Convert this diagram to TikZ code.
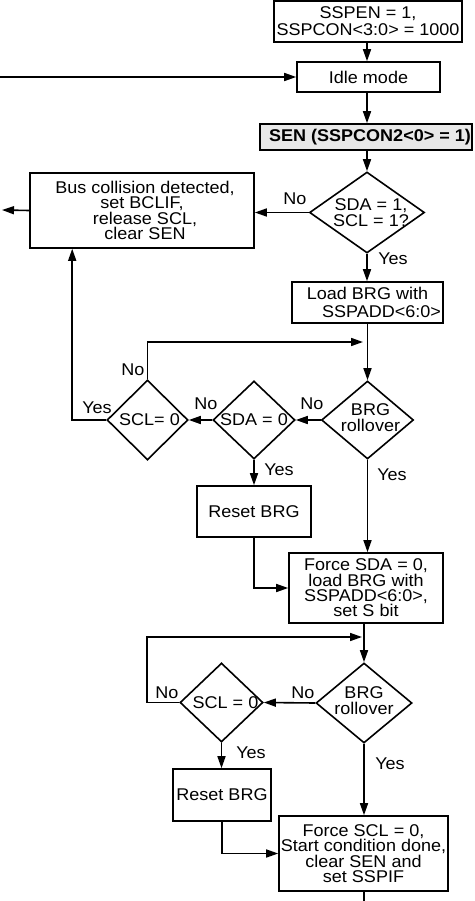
\documentclass[tikz,border=0pt]{standalone}
\usepackage{fontspec}
\setmainfont{Liberation Sans}[FakeStretch=1.06]
\usetikzlibrary{arrows.meta,shapes.geometric}
\newcommand\fA{\fontsize{17}{15.6}\selectfont\lineskiplimit=-30pt\relax}
\newcommand\fB{\fontsize{17}{17.3}\selectfont\lineskiplimit=-30pt\relax}
\newcommand\fC{\fontsize{17}{15.4}\selectfont\lineskiplimit=-30pt\relax}
\newcommand\fD{\fontsize{17}{16}\selectfont\lineskiplimit=-30pt\relax}
\begin{document}
\begin{tikzpicture}[x=1pt,y=-1pt,line width=1.6pt,
  box/.style={draw, rectangle, inner sep=0pt, align=center, font=\fA},
  dia/.style={draw, diamond, inner sep=0pt},
  txt/.style={inner sep=0pt, align=center, font=\fA},
  lbl/.style={inner sep=0pt, font=\fA},
  arr/.style={-{Triangle[length=12pt,width=8pt]}}]
\useasboundingbox (0,0) rectangle (474,901);
% boxes
\node[box, font=\fB, minimum width=188pt, minimum height=41pt] (top) at (368,21.3) {SSPEN = 1,\\SSPCON<3:0> = 1000};
\node[box, minimum width=143pt, minimum height=30pt] (idle) at (368.5,77) {Idle mode};
\node[box, fill=gray!18, font=\fA\bfseries, minimum width=212pt, minimum height=26pt] (sen) at (366,137) {\hspace*{8pt}SEN (SSPCON2<0> = 1)};
\node[dia, minimum width=115pt, minimum height=81pt] (d1) at (367,212.5) {};
\node[txt] (d1t) at ([xshift=4pt]d1.center) {SDA = 1,\\SCL = 1?};
\node[box, minimum width=224pt, minimum height=75pt] (bus) at (142,210.5) {\hspace*{6pt}Bus collision detected,\\set BCLIF,\\\hspace*{6pt}release SCL,\\\hspace*{6pt}clear SEN};
\node[box, font=\fB, minimum width=151pt, minimum height=41pt] (load) at (367.5,302.5) {Load BRG with\\\hspace*{28pt}SSPADD<6:0>};
\node[dia, minimum width=92pt, minimum height=78pt] (r1) at (367.5,420) {};
\node[txt, font=\fD] (r1t) at ([xshift=3pt,yshift=2pt]r1.center) {BRG\\rollover};
\node[dia, minimum width=82pt, minimum height=78pt] (sda) at (254,420) {};
\node[txt] (sdat) at (sda.center) {SDA = 0};
\node[dia, minimum width=81pt, minimum height=80pt] (scl1) at (147.5,420) {};
\node[txt] (scl1t) at ([xshift=2pt]scl1.center) {SCL= 0};
\node[box, minimum width=114pt, minimum height=51pt] (reset1) at (254,511.5) {Reset BRG};
\node[box, font=\fC, minimum width=154pt, minimum height=70pt] (fsda) at (366,588) {Force SDA = 0,\\load BRG with\\SSPADD<6:0>,\\set S bit};
\node[dia, minimum width=96pt, minimum height=80pt] (r2) at (364,703) {};
\node[txt, font=\fD] (r2t) at ([yshift=2pt]r2.center) {BRG\\rollover};
\node[dia, minimum width=83pt, minimum height=79pt] (scl2) at (221.5,702.5) {};
\node[txt] (scl2t) at ([xshift=4pt]scl2.center) {SCL = 0};
\node[box, minimum width=98pt, minimum height=52pt] (reset2) at (222,795) {Reset BRG};
\node[box, font=\fC, minimum width=169pt, minimum height=75pt] (fscl) at (363.5,853.5) {Force SCL = 0,\\Start condition done,\\clear SEN and\\set SSPIF};
% free ends
\coordinate (inL) at (0,77);
\coordinate (outL) at (2,210);
\coordinate (j1) at (363,342);
\coordinate (j2) at (362,637);
\coordinate (endB) at (364,901);
% connectors
\draw[arr] (top.south -| d1.north) -- (idle.north -| d1.north);
\draw[arr] (inL) -- (idle.west);
\draw[arr] (idle.south -| d1.north) -- (sen.north -| d1.north);
\draw[arr] (sen.south -| d1.north) -- (d1.north);
\draw[arr] (d1.west) -- (d1.west -| bus.east);
\draw[arr] (bus.west) -- (outL);
\draw[arr] (d1.south) -- (d1.south |- load.north);
\draw[arr] (load.south -| r1.north) -- (r1.north);
\draw[arr] (r1.west) -- (sda.east);
\draw[arr] (sda.west) -- (scl1.east);
\draw[arr] (scl1.north) |- (j1);
\draw[arr] (scl1.west) -| ([xshift=43pt]bus.south west);
\draw[arr] (sda.south) -- (reset1.north);
\draw[arr] (reset1.south) |- (fsda.west);
\draw[arr] (r1.south) -- (r1.south |- fsda.north);
\draw[arr] (fsda.south -| r2.north) -- (r2.north);
\draw[arr] (r2.west) -- (scl2.east);
\draw[arr] (scl2.west) -- ++(-32,0) |- (j2);
\draw[arr] (scl2.south) -- (scl2.south |- reset2.north);
\draw[arr] (reset2.south) |- (fscl.west);
\draw[arr] (r2.south) -- (r2.south |- fscl.north);
\draw (fscl.south -| r2.south) -- (endB);
% labels
\node[lbl] (n1) at (295,199) {No};
\node[lbl] (y1) at (393,259) {Yes};
\node[lbl] (n2) at (133,370) {No};
\node[lbl] (y2) at (97,408) {Yes};
\node[lbl] (n3) at (206,404) {No};
\node[lbl] (n4) at (312,404) {No};
\node[lbl] (y3) at (279,470) {Yes};
\node[lbl] (y4) at (392,475) {Yes};
\node[lbl] (n5) at (167,693) {No};
\node[lbl] (n6) at (303,693) {No};
\node[lbl] (y5) at (251,753) {Yes};
\node[lbl] (y6) at (390,764) {Yes};
\end{tikzpicture}
\end{document}
